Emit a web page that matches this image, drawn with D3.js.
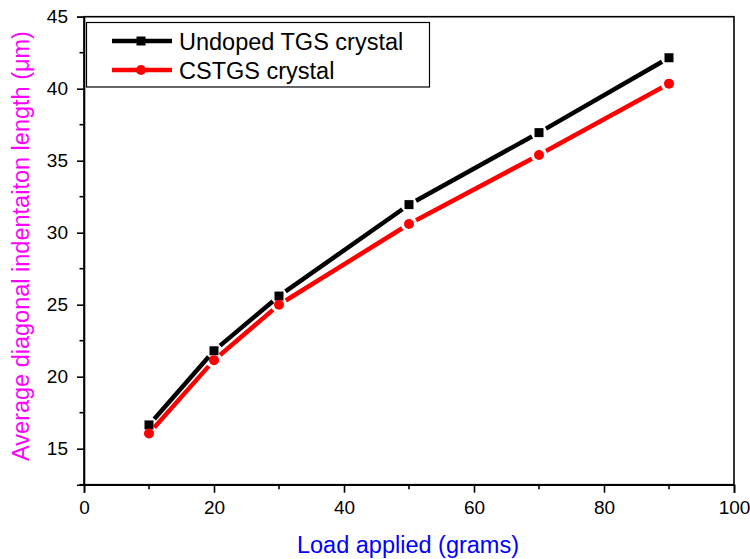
<!DOCTYPE html>
<html>
<head>
<meta charset="utf-8">
<script src="https://cdn.jsdelivr.net/npm/d3@7"></script>
<style>
  html, body { margin: 0; padding: 0; background: #fff; }
  svg { display: block; font-family: "Liberation Sans", Arial, sans-serif; }
</style>
</head>
<body>
<svg id="chart" width="750" height="559"></svg>
<script>
const loads = [10, 20, 30, 50, 70, 90];
const undoped = [16.65, 21.8, 25.6, 31.95, 36.95, 42.15];
const cstgs = [16.05, 21.15, 25.0, 30.6, 35.4, 40.35];
const xTicks = [0, 20, 40, 60, 80, 100];
const yTicks = [15, 20, 25, 30, 35, 40, 45];
const seriesNames = ["Undoped TGS crystal", "CSTGS crystal"];
const seriesColors = ["#000000", "#ff0000"];

const svg = d3.select("#chart");
const L = 84, R = 734, T = 16.7, B = 484.7;
const x = d3.scaleLinear().domain([0, 100]).range([L, R]);
const y = d3.scaleLinear().domain([12.5, 45]).range([B, T]);

// Frame
svg.append("rect").attr("x", L).attr("y", T).attr("width", R - L).attr("height", B - T)
  .attr("fill", "none").attr("stroke", "#000").attr("stroke-width", 1.6);

// X axis
const xAxis = svg.append("g").attr("transform", `translate(0,${B})`)
  .call(d3.axisBottom(x).tickValues(xTicks).tickSize(8).tickPadding(8).tickFormat(d3.format("d")));
xAxis.select(".domain").attr("stroke-width", 1.6);
xAxis.selectAll(".tick line").attr("stroke-width", 1.6);
xAxis.selectAll("text").attr("font-size", 19).attr("font-family", "Liberation Sans, Arial").attr("fill", "#000");
svg.append("g").selectAll("line").data(d3.range(10, 100, 20)).join("line")
  .attr("x1", d => x(d)).attr("x2", d => x(d)).attr("y1", B).attr("y2", B + 4.5)
  .attr("stroke", "#000").attr("stroke-width", 1.6);

// Y axis
const yAxis = svg.append("g").attr("transform", `translate(${L},0)`)
  .call(d3.axisLeft(y).tickValues(yTicks).tickSize(7).tickPadding(9).tickFormat(d3.format("d")));
yAxis.select(".domain").attr("stroke-width", 1.6);
yAxis.selectAll(".tick line").attr("stroke-width", 1.6);
yAxis.selectAll("text").attr("font-size", 19).attr("font-family", "Liberation Sans, Arial").attr("fill", "#000");
svg.append("g").selectAll("line").data([12.5, 17.5, 22.5, 27.5, 32.5, 37.5, 42.5]).join("line")
  .attr("x1", L).attr("x2", L - 4.5).attr("y1", d => y(d)).attr("y2", d => y(d))
  .attr("stroke", "#000").attr("stroke-width", 1.6);

// Axis titles
svg.append("text").attr("x", 408).attr("y", 553).attr("text-anchor", "middle")
  .attr("font-size", 23.5).attr("fill", "#0000ff").text("Load applied (grams)");
svg.append("text").attr("transform", `translate(29,246) rotate(-90)`)
  .attr("text-anchor", "middle").attr("font-size", 23.5).attr("fill", "#ff00ff")
  .text("Average diagonal indentaiton length (\u03bcm)");

// Series
const gap = 8;
function drawSeries(vals, color, shape) {
  const pts = loads.map((l, i) => [x(l), y(vals[i])]);
  const g = svg.append("g");
  for (let i = 0; i < pts.length - 1; i++) {
    const [x1, y1] = pts[i], [x2, y2] = pts[i + 1];
    const dx = x2 - x1, dy = y2 - y1, len = Math.hypot(dx, dy);
    const ux = dx / len, uy = dy / len;
    g.append("line")
      .attr("x1", x1 + ux * gap).attr("y1", y1 + uy * gap)
      .attr("x2", x2 - ux * gap).attr("y2", y2 - uy * gap)
      .attr("stroke", color).attr("stroke-width", 4.5);
  }
  pts.forEach(([px, py]) => {
    if (shape === "square") {
      g.append("rect").attr("x", px - 4.5).attr("y", py - 4.5).attr("width", 9).attr("height", 9).attr("fill", color);
    } else {
      g.append("circle").attr("cx", px).attr("cy", py).attr("r", 5).attr("fill", color);
    }
  });
}
drawSeries(undoped, seriesColors[0], "square");
drawSeries(cstgs, seriesColors[1], "circle");

// Legend
svg.append("rect").attr("x", 86.5).attr("y", 22.5).attr("width", 343).attr("height", 64.5)
  .attr("fill", "#fff").attr("stroke", "#000").attr("stroke-width", 1.2);
const rows = [41, 70];
seriesNames.forEach((name, i) => {
  const ly = rows[i];
  svg.append("line").attr("x1", 112).attr("x2", 172).attr("y1", ly).attr("y2", ly)
    .attr("stroke", seriesColors[i]).attr("stroke-width", 4.5);
  if (i === 0) {
    svg.append("rect").attr("x", 141 - 4.5).attr("y", ly - 4.5).attr("width", 9).attr("height", 9).attr("fill", seriesColors[i]);
  } else {
    svg.append("circle").attr("cx", 141).attr("cy", ly).attr("r", 5).attr("fill", seriesColors[i]);
  }
  svg.append("text").attr("x", 179).attr("y", ly + 8.5).attr("font-size", 23.5).attr("fill", "#000").text(name);
});
</script>
</body>
</html>
